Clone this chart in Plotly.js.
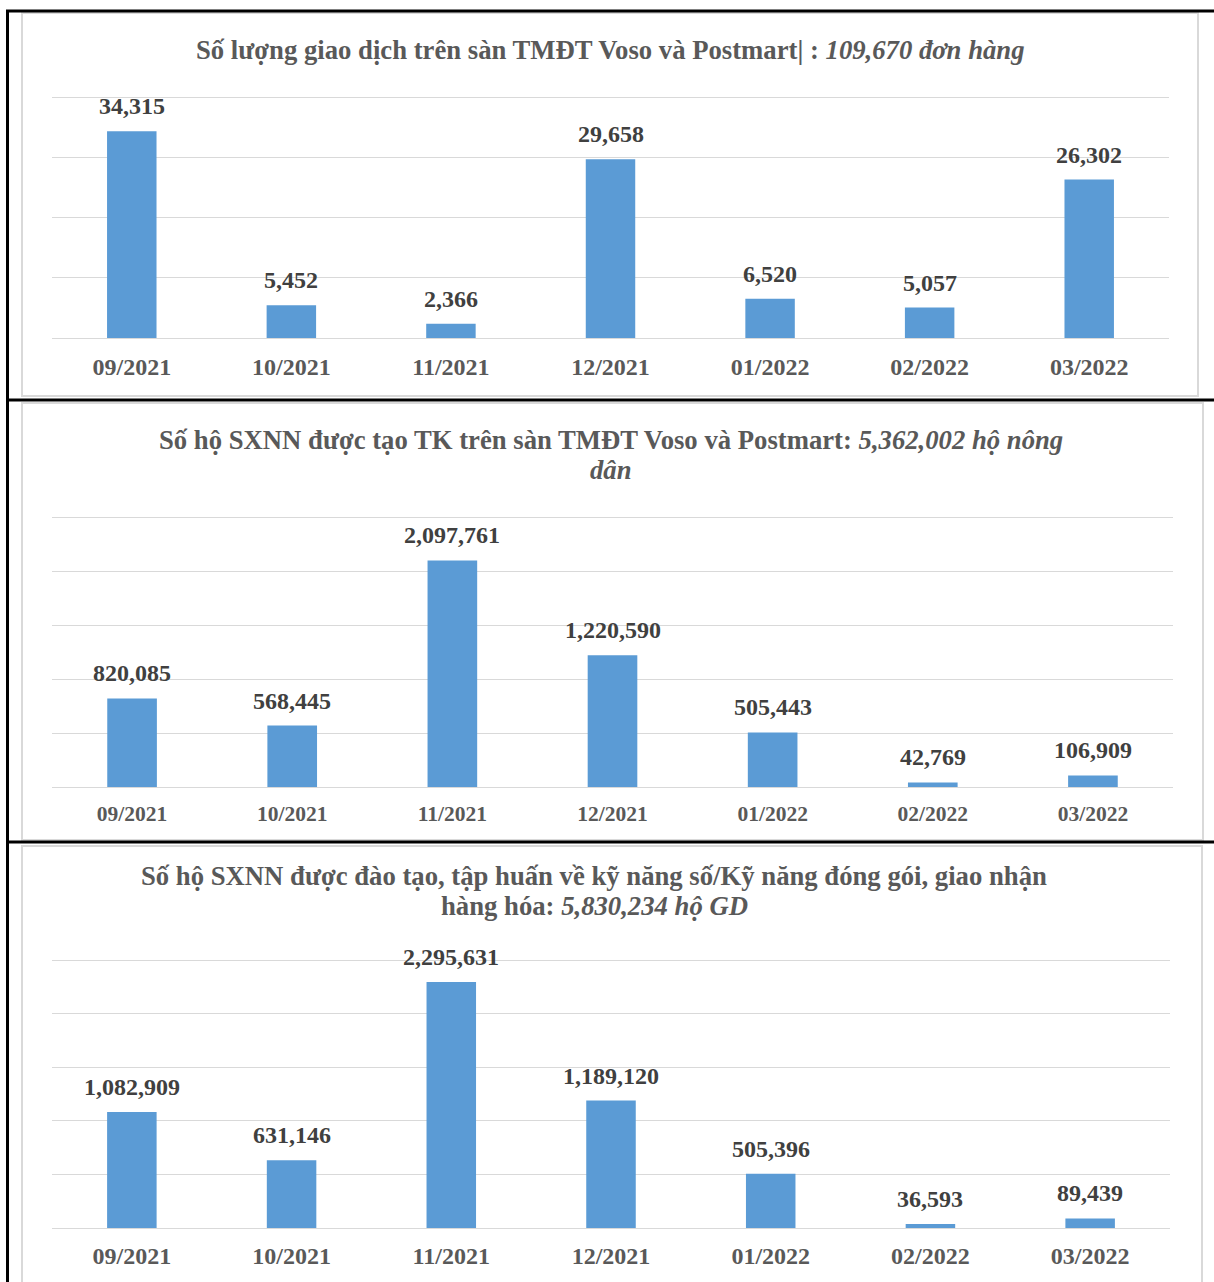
<!DOCTYPE html>
<html><head><meta charset="utf-8">
<script src="https://cdn.plot.ly/plotly-3.0.1.min.js"></script>
<style>html,body{margin:0;padding:0;background:#fff}#chart{width:1214px;height:1282px}</style>
</head><body><div id="chart"></div>
<script>
const months = ["09/2021","10/2021","11/2021","12/2021","01/2022","02/2022","03/2022"];
const transactions = [34315, 5452, 2366, 29658, 6520, 5057, 26302];
const accounts = [820085, 568445, 2097761, 1220590, 505443, 42769, 106909];
const trained = [1082909, 631146, 2295631, 1189120, 505396, 36593, 89439];

const title1 = ["<b>Số lượng giao dịch trên sàn TMĐT Voso và Postmart| : </b><b><i>109,670 đơn hàng</i></b>"];
const title2 = ["<b>Số hộ SXNN được tạo TK trên sàn TMĐT Voso và Postmart: </b><b><i>5,362,002 hộ nông</i></b>", "<b><i>dân</i></b>"];
const title3 = ["<b>Số hộ SXNN được đào tạo, tập huấn về kỹ năng số/Kỹ năng đóng gói, giao nhận</b>", "<b>hàng hóa: </b><b><i>5,830,234 hộ GD</i></b>"];

const W = 1214, H = 1282;
const px = x => x / W;
const py = y => 1 - y / H;
const FONT = "Liberation Serif, Times New Roman, serif";
const BAR = "#5B9BD5";
const GRID = "#d9d9d9";

function fmt(v){ return v.toLocaleString("en-US"); }

const traces = [
  {type:"bar", x:months, y:transactions, xaxis:"x", yaxis:"y", marker:{color:BAR}, hoverinfo:"none"},
  {type:"bar", x:months, y:accounts, xaxis:"x2", yaxis:"y2", marker:{color:BAR}, hoverinfo:"none"},
  {type:"bar", x:months, y:trained, xaxis:"x3", yaxis:"y3", marker:{color:BAR}, hoverinfo:"none"}
];

function xax(domain, anchor, size, standoff){
  return {domain:domain, anchor:anchor, type:"category", showgrid:false, showline:false, zeroline:false,
    ticks:"", tickfont:{family:FONT, size:size, color:"#595959", weight:"bold"}, ticklabelstandoff:standoff, fixedrange:true};
}
function yax(domain, anchor, range, dtick){
  return {domain:domain, anchor:anchor, range:range, dtick:dtick, showgrid:true, gridcolor:GRID, gridwidth:1,
    zeroline:true, zerolinecolor:GRID, zerolinewidth:1, showticklabels:false, ticks:"", showline:false, fixedrange:true};
}

const annotations = [];
function addLabels(vals, xr, yr, size){
  vals.forEach((v,i)=>annotations.push({x:months[i], y:v, xref:xr, yref:yr, text:"<b>"+fmt(v)+"</b>",
    showarrow:false, yanchor:"middle", yshift:25, font:{family:FONT, size:size, color:"#404040"}}));
}
addLabels(transactions, "x", "y", 24);
addLabels(accounts, "x2", "y2", 24);
addLabels(trained, "x3", "y3", 24);

function addTitle(lines, cx, y0){
  lines.forEach((t,i)=>annotations.push({xref:"paper", yref:"paper", x:px(cx), y:py(y0 + i*30), text:t, showarrow:false,
    xanchor:"center", yanchor:"middle", font:{family:FONT, size:26.7, color:"#595959"}}));
}
addTitle(title1, 610, 50);
addTitle(title2, 611, 440);
addTitle(title3, 594, 876);

const shapes = [
  {type:"rect", xref:"paper", yref:"paper", x0:px(22), x1:px(1198), y0:py(13), y1:py(396), line:{color:GRID, width:2}},
  {type:"rect", xref:"paper", yref:"paper", x0:px(22), x1:px(1203), y0:py(403), y1:py(840), line:{color:GRID, width:2}},
  {type:"rect", xref:"paper", yref:"paper", x0:px(22), x1:px(1202), y0:py(846), y1:py(1295), line:{color:GRID, width:2}},
  {type:"line", xref:"paper", yref:"paper", x0:px(6), x1:px(1214), y0:py(11), y1:py(11), line:{color:"#000", width:3}},
  {type:"line", xref:"paper", yref:"paper", x0:px(6), x1:px(1214), y0:py(400), y1:py(400), line:{color:"#000", width:3}},
  {type:"line", xref:"paper", yref:"paper", x0:px(6), x1:px(1214), y0:py(842), y1:py(842), line:{color:"#000", width:3}},
  {type:"line", xref:"paper", yref:"paper", x0:px(7.5), x1:px(7.5), y0:py(10), y1:py(1282), line:{color:"#000", width:3}}
];

const layout = {
  width:W, height:H, margin:{l:0,r:0,t:0,b:0}, showlegend:false, bargap:0.69,
  paper_bgcolor:"#fff", plot_bgcolor:"rgba(0,0,0,0)",
  xaxis: xax([px(52), px(1169)], "y", 24, 12),
  yaxis: yax([py(338), py(92)], "x", [0, 40830], 10000),
  xaxis2: xax([px(52), px(1173)], "y2", 21.5, 11),
  yaxis2: yax([py(787), py(512)], "x2", [0, 2546300], 500000),
  xaxis3: xax([px(52), px(1170)], "y3", 24, 11),
  yaxis3: yax([py(1228), py(955)], "x3", [0, 2546640], 500000),
  annotations: annotations, shapes: shapes
};

Plotly.newPlot("chart", traces, layout, {displayModeBar:false, staticPlot:true});
</script></body></html>
